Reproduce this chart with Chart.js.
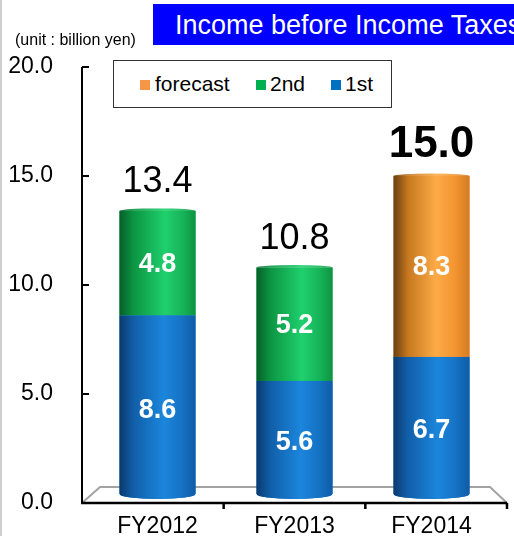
<!DOCTYPE html>
<html>
<head>
<meta charset="utf-8">
<title>Income before Income Taxes</title>
<script src="https://cdn.jsdelivr.net/npm/chart.js@4.4.1/dist/chart.umd.min.js"></script>
<style>
    html, body { margin: 0; padding: 0; background: #fff; }
    #wrap { position: relative; width: 514px; height: 536px; overflow: hidden; font-family: "Liberation Sans", Arial, sans-serif; }
    #wrap::before { content: ''; position: absolute; left: 0; top: 0; bottom: 0; width: 2px; background: #cfcfcf; }
    #chart { position: absolute; left: 0; top: 0; }
    .title {
        position: absolute; left: 153px; top: 4px; width: 361px; height: 41px;
        background: #0000ff; color: #fff; font-size: 27px; line-height: 42px;
        padding-left: 22px; box-sizing: border-box; white-space: nowrap; overflow: hidden;
    }
    .unit { position: absolute; left: 15px; top: 31px; font-size: 16px; color: #000; white-space: nowrap; }
    .legend {
        position: absolute; left: 113px; top: 60px; width: 279px; height: 48px;
        border: 1.5px solid #333; box-sizing: border-box; background: #fff;
        font-size: 21px; color: #000;
    }
    .legend span { position: absolute; top: 11px; white-space: nowrap; }
    .legend i { position: absolute; width: 10px; height: 10px; top: 19px; }
</style>
</head>
<body>
<div id="wrap">
    <canvas id="chart" width="514" height="536"></canvas>
    <div class="title">Income before Income Taxes</div>
    <div class="unit">(unit : billion yen)</div>
    <div class="legend" id="legend"></div>
</div>

<script>
// Income before income taxes, billion yen, per half year
const categories = ['FY2012', 'FY2013', 'FY2014'];
const firstHalf = [8.6, 5.6, 6.7];
const secondHalf = [4.8, 5.2, null];
const forecast = [null, null, 8.3];
const yTicks = [0, 5, 10, 15, 20];

const seriesNames = ['1st', '2nd', 'forecast'];
const flatColors = ['#0070c0', '#00b050', '#f79646'];

// horizontal shading stops that give each bar a cylinder look
const shades = [
    [[0, '#0a3a6e'], [0.18, '#115ea8'], [0.58, '#1b86dc'], [0.82, '#1672c4'], [1, '#0f5ba8']],
    [[0, '#06602a'], [0.18, '#0c9442'], [0.6, '#1fd06d'], [0.84, '#16b257'], [1, '#0e9342']],
    [[0, '#6a3f12'], [0.2, '#c9791f'], [0.56, '#fcab46'], [0.8, '#f49631'], [1, '#d47b22']]
];

// the floor and axes sit a little wider than the bar area (3D depth)
const DEPTH = 7;

function buildLegend() {
    const legend = document.getElementById('legend');
    // top series first, as in the slide
    const items = [
        { name: seriesNames[2], color: flatColors[2], box: 26, text: 41 },
        { name: seriesNames[1], color: flatColors[1], box: 142, text: 156 },
        { name: seriesNames[0], color: flatColors[0], box: 217, text: 231 }
    ];
    items.forEach(item => {
        const sq = document.createElement('i');
        sq.style.left = item.box + 'px';
        sq.style.background = item.color;
        legend.appendChild(sq);
        const label = document.createElement('span');
        label.style.left = item.text + 'px';
        label.textContent = item.name;
        legend.appendChild(label);
    });
}

function cylinderFill(ctx, x0, x1, stops) {
    const g = ctx.createLinearGradient(x0, 0, x1, 0);
    stops.forEach(s => g.addColorStop(s[0], s[1]));
    return g;
}

const cylinderPlugin = {
    id: 'cylinders',
    beforeDatasetsDraw(chart) {
        const { ctx, chartArea } = chart;
        const { left, right, bottom } = chartArea;
        const axisLeft = left - DEPTH;
        const axisRight = right + DEPTH;

        // floor of the plot
        ctx.save();
        ctx.strokeStyle = '#a3a3a3';
        ctx.lineWidth = 2;
        ctx.beginPath();
        ctx.moveTo(axisLeft, bottom);
        ctx.lineTo(axisLeft + 18, bottom - 16);
        ctx.lineTo(axisRight - 17, bottom - 16);
        ctx.lineTo(axisRight, bottom);
        ctx.stroke();
        ctx.restore();

        // bars stand on the floor: clip their feet to an ellipse
        ctx.save();
        ctx.beginPath();
        ctx.rect(left, 0, right - left, bottom - 9);
        chart.getDatasetMeta(0).data.forEach(el => {
            ctx.moveTo(el.x + el.width / 2, bottom - 9);
            ctx.ellipse(el.x, bottom - 9, el.width / 2, 5, 0, 0, Math.PI * 2);
        });
        ctx.clip();
    },
    afterDatasetDraw(chart, args) {
        const { ctx } = chart;
        const stops = shades[args.index];
        args.meta.data.forEach((el, i) => {
            const v = chart.data.datasets[args.index].data[i];
            if (v === null) return;
            const x0 = el.x - el.width / 2;
            const x1 = el.x + el.width / 2;
            ctx.save();
            ctx.fillStyle = cylinderFill(ctx, x0, x1, stops);
            ctx.fillRect(x0, el.y, el.width, el.base - el.y);
            ctx.restore();
        });
    },
    afterDatasetsDraw(chart) {
        const { ctx, chartArea, scales } = chart;
        ctx.restore();
        const { left, right, top, bottom } = chartArea;
        const axisLeft = left - DEPTH;
        const axisRight = right + DEPTH;
        const datasets = chart.data.datasets;

        // flat caps on the top of each stack
        categories.forEach((c, i) => {
            let topIdx = -1;
            datasets.forEach((ds, d) => { if (ds.data[i] !== null) topIdx = d; });
            const el = chart.getDatasetMeta(topIdx).data[i];
            const x0 = el.x - el.width / 2;
            ctx.save();
            ctx.beginPath();
            ctx.ellipse(el.x, el.y, el.width / 2, 2.5, 0, Math.PI, Math.PI * 2);
            ctx.fillStyle = cylinderFill(ctx, x0, x0 + el.width, shades[topIdx]);
            ctx.fill();
            ctx.fillStyle = 'rgba(255,255,255,0.12)';
            ctx.fill();
            ctx.restore();
        });

        // axes
        ctx.save();
        ctx.strokeStyle = '#000';
        ctx.lineWidth = 2;
        ctx.beginPath();
        ctx.moveTo(axisLeft, top);
        ctx.lineTo(axisLeft, bottom);
        yTicks.forEach(t => {
            if (t === 0) return;
            const y = Math.round(scales.y.getPixelForValue(t));
            ctx.moveTo(axisLeft, y);
            ctx.lineTo(axisLeft + 7, y);
        });
        ctx.stroke();
        ctx.lineWidth = 2.5;
        ctx.beginPath();
        ctx.moveTo(axisLeft - 1, bottom);
        ctx.lineTo(axisRight, bottom);
        const step = (axisRight - axisLeft) / categories.length;
        categories.forEach((c, i) => {
            const x = axisLeft + step * (i + 1);
            ctx.moveTo(x, bottom);
            ctx.lineTo(x, bottom + 6);
        });
        ctx.stroke();
        ctx.restore();

        // values inside segments
        ctx.save();
        ctx.fillStyle = '#fff';
        ctx.textAlign = 'center';
        ctx.textBaseline = 'middle';
        ctx.font = 'bold 27px "Liberation Sans", Arial, sans-serif';
        datasets.forEach((ds, d) => {
            chart.getDatasetMeta(d).data.forEach((el, i) => {
                if (ds.data[i] === null) return;
                ctx.fillText(ds.data[i].toFixed(1), el.x, (el.y + el.base) / 2 + 1);
            });
        });
        ctx.restore();

        // totals above each stack
        ctx.save();
        ctx.fillStyle = '#000';
        ctx.textAlign = 'center';
        ctx.textBaseline = 'alphabetic';
        categories.forEach((c, i) => {
            let total = 0;
            let topY = bottom;
            let x = 0;
            datasets.forEach((ds, d) => {
                if (ds.data[i] === null) return;
                total += ds.data[i];
                const el = chart.getDatasetMeta(d).data[i];
                topY = Math.min(topY, el.y);
                x = el.x;
            });
            const isForecast = forecast[i] !== null;
            ctx.font = isForecast ? 'bold 44px "Liberation Sans", Arial, sans-serif'
                                  : '36px "Liberation Sans", Arial, sans-serif';
            ctx.fillText(total.toFixed(1), x, topY - 19);
        });
        ctx.restore();
    }
};

function drawChart() {
    const ctx = document.getElementById('chart').getContext('2d');
    new Chart(ctx, {
        type: 'bar',
        data: {
            labels: categories,
            datasets: [
                { label: seriesNames[0], data: firstHalf, backgroundColor: flatColors[0] },
                { label: seriesNames[1], data: secondHalf, backgroundColor: flatColors[1] },
                { label: seriesNames[2], data: forecast, backgroundColor: flatColors[2] }
            ]
        },
        options: {
            responsive: false,
            animation: false,
            layout: { padding: { left: 0, top: 67, right: 14, bottom: 0 } },
            datasets: {
                bar: { categoryPercentage: 1, barPercentage: 0.555, borderWidth: 0 }
            },
            plugins: {
                legend: { display: false },
                tooltip: { enabled: false }
            },
            scales: {
                x: {
                    stacked: true,
                    grid: { display: false },
                    border: { display: false },
                    ticks: {
                        color: '#000',
                        padding: 2,
                        font: { family: '"Liberation Sans", Arial, sans-serif', size: 23 }
                    },
                    afterFit: scale => { scale.height = 33; }
                },
                y: {
                    stacked: true,
                    min: 0,
                    max: 20,
                    afterBuildTicks: scale => { scale.ticks = yTicks.map(v => ({ value: v })); },
                    grid: { display: false },
                    border: { display: false },
                    ticks: {
                        color: '#000',
                        padding: 28,
                        font: { family: '"Liberation Sans", Arial, sans-serif', size: 23 },
                        callback: value => Number(value).toFixed(1)
                    },
                    afterFit: scale => {
                        scale.width = 89;
                        // the plot edges are fixed by the layout padding
                        scale.paddingTop = 0;
                        scale.paddingBottom = 0;
                    }
                }
            }
        },
        plugins: [cylinderPlugin]
    });
}

document.addEventListener('DOMContentLoaded', function () {
    buildLegend();
    drawChart();
});
</script>
</body>
</html>
